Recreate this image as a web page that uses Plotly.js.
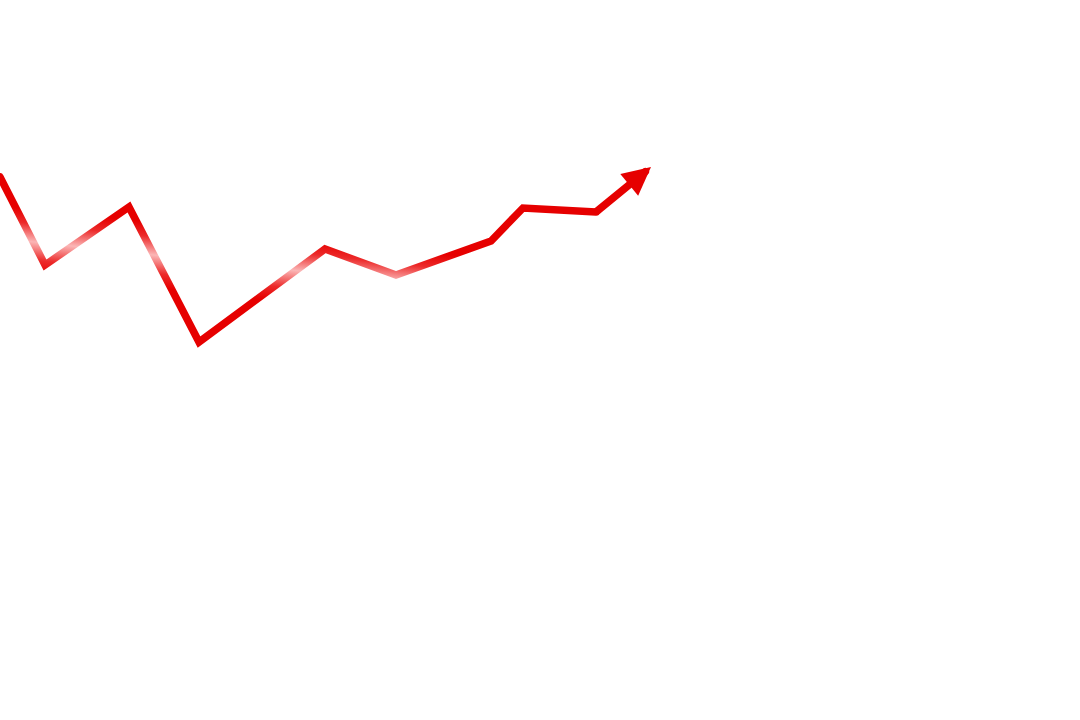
<!DOCTYPE html>
<html>
<head>
<meta charset="utf-8">
<script src="https://cdn.plot.ly/plotly-3.0.1.min.js"></script>
<style>
  html, body { margin: 0; padding: 0; background: #ffffff; }
  #chart_area { width: 1080px; height: 720px; }
</style>
</head>
<body>
<div id="chart_area"></div>
<script>
// line points (arbitrary units)
var xVals = [0, 4.5, 12.9, 19.9, 32.5, 39.6, 49.1, 52.3, 59.6];
var yVals = [54.3, 45.5, 51.3, 37.8, 47.1, 44.5, 47.9, 51.2, 50.8];
// where the arrow points to
var arrowTipX = 65.1;
var arrowTipY = 55.3;

var red = '#e60000';

var trace0 = {
  type: 'scatter',
  mode: 'lines',
  x: xVals,
  y: yVals,
  line: { color: red, width: 7.5 },
  hoverinfo: 'skip'
};

var last = xVals.length - 1;

var layout = {
  width: 1080,
  height: 720,
  showlegend: false,
  margin: { l: 0, r: 0, t: 0, b: 0 },
  paper_bgcolor: '#ffffff',
  plot_bgcolor: '#ffffff',
  xaxis: { range: [0, 108], showgrid: false, zeroline: false, visible: false },
  yaxis: { range: [0, 72], showgrid: false, zeroline: false, visible: false },
  annotations: [{
    x: arrowTipX, y: arrowTipY, xref: 'x', yref: 'y',
    ax: xVals[last], ay: yVals[last], axref: 'x', ayref: 'y',
    text: '', showarrow: true,
    arrowhead: 2, arrowsize: 0.75, arrowwidth: 7.5, arrowcolor: red,
    standoff: 0, startstandoff: 0
  }]
};

var config = { staticPlot: true, displayModeBar: false };

Plotly.newPlot('chart_area', [trace0], layout, config).then(function (gd) {
  // soft pale band that runs across the line
  var svg = gd.querySelector('.main-svg');
  var ns = 'http://www.w3.org/2000/svg';
  var defs = svg.querySelector('defs') || svg.insertBefore(document.createElementNS(ns, 'defs'), svg.firstChild);
  var grad = document.createElementNS(ns, 'linearGradient');
  grad.setAttribute('id', 'paleBand');
  grad.setAttribute('gradientUnits', 'userSpaceOnUse');
  grad.setAttribute('x1', '203');
  grad.setAttribute('y1', '228');
  grad.setAttribute('x2', '196');
  grad.setAttribute('y2', '292');
  [[0, red], [0.22, '#ec2a2a'], [0.5, '#fbb6b6'], [0.78, '#ec2a2a'], [1, red]].forEach(function (s) {
    var stop = document.createElementNS(ns, 'stop');
    stop.setAttribute('offset', s[0]);
    stop.setAttribute('stop-color', s[1]);
    grad.appendChild(stop);
  });
  defs.appendChild(grad);
  gd.querySelectorAll('.scatterlayer .js-line').forEach(function (p) {
    p.style.stroke = 'url(#paleBand)';
    p.style.strokeLinejoin = 'miter';
    p.style.strokeLinecap = 'round';
  });
  gd.querySelectorAll('.annotation-arrow-g path').forEach(function (p) {
    p.style.strokeLinecap = 'round';
  });
});
</script>
</body>
</html>
